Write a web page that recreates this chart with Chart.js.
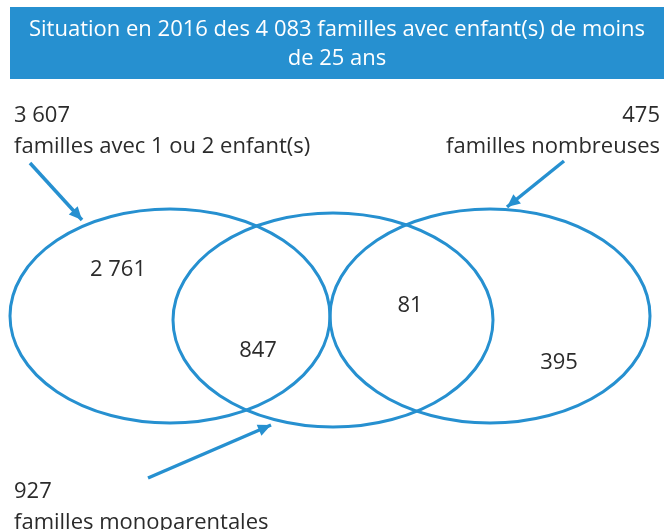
<!DOCTYPE html>
<html>
<head>
<meta charset="utf-8">
<script src="https://cdn.jsdelivr.net/npm/chart.js@4.4.0/dist/chart.umd.min.js"></script>
<style>
html,body{margin:0;padding:0;background:#fff;}
#wrap{width:664px;height:530px;position:relative;}
</style>
</head>
<body>
<div id="wrap"><canvas id="c" width="664" height="530"></canvas></div>
<script>
// ---- Data ----
const titleLines = ["Situation en 2016 des 4 083 familles avec enfant(s) de moins", "de 25 ans"];
const setNames = ["familles avec 1 ou 2 enfant(s)", "familles nombreuses", "familles monoparentales"];
const setTotals = ["3 607", "475", "927"];
const regionLabels = ["2 761", "847", "81", "395"];

// ---- Layout (drawing-space coordinates, in scale units) ----
const ellipseCX = [170, 333, 490];
const ellipseCY = [316, 320, 316];
const ellipseRX = [160, 160, 160];
const ellipseRY = [107, 107, 107];
const regionX = [118, 258, 410, 559];
const regionY = [270, 351, 306, 363];
const setLabelX = [14, 660, 14];
const setLabelY = [122, 122, 498];
const setLabelAlign = ["left", "right", "left"];
const arrowFrom = [[30, 163], [564, 161], [148, 478]];
const arrowTo = [[82, 220], [507, 207], [271, 425]];

const BLUE = "#2690d0";
const TEXT = "#2b2b2b";
const FONT = "'Open Sans', 'Noto Sans', sans-serif";

const arrowDatasets = arrowFrom.map((f, i) => ({
  type: 'line',
  data: [{x: f[0], y: f[1]}, {x: arrowTo[i][0], y: arrowTo[i][1]}],
  borderColor: BLUE,
  borderWidth: 3.5,
  pointRadius: 0,
  showLine: true,
  fill: false
}));

const vennPlugin = {
  id: 'venn',
  beforeDatasetsDraw(chart) {
    const {ctx, scales: {x, y}} = chart;
    ctx.save();
    // title bar
    const tx0 = x.getPixelForValue(10), tx1 = x.getPixelForValue(664);
    const ty0 = y.getPixelForValue(7), ty1 = y.getPixelForValue(79);
    ctx.fillStyle = BLUE;
    ctx.fillRect(tx0, ty0, tx1 - tx0, ty1 - ty0);
    ctx.fillStyle = "#ffffff";
    ctx.font = "22px " + FONT;
    ctx.textAlign = "center";
    ctx.textBaseline = "alphabetic";
    titleLines.forEach((t, i) => {
      ctx.fillText(t, x.getPixelForValue(337), y.getPixelForValue(36 + i * 29));
    });
    // ellipses
    ctx.strokeStyle = BLUE;
    ctx.lineWidth = 3;
    ellipseCX.forEach((cx, i) => {
      const px = x.getPixelForValue(cx), py = y.getPixelForValue(ellipseCY[i]);
      const rx = Math.abs(x.getPixelForValue(cx + ellipseRX[i]) - px);
      const ry = Math.abs(y.getPixelForValue(ellipseCY[i] + ellipseRY[i]) - py);
      ctx.beginPath();
      ctx.ellipse(px, py, rx, ry, 0, 0, Math.PI * 2);
      ctx.stroke();
    });
    ctx.restore();
  },
  afterDatasetsDraw(chart) {
    const {ctx, scales: {x, y}} = chart;
    ctx.save();
    // arrowheads
    ctx.fillStyle = BLUE;
    arrowFrom.forEach((f, i) => {
      const x0 = x.getPixelForValue(f[0]), y0 = y.getPixelForValue(f[1]);
      const x1 = x.getPixelForValue(arrowTo[i][0]), y1 = y.getPixelForValue(arrowTo[i][1]);
      const a = Math.atan2(y1 - y0, x1 - x0);
      const L = 13, W = 6;
      ctx.beginPath();
      ctx.moveTo(x1, y1);
      ctx.lineTo(x1 - L * Math.cos(a) + W * Math.sin(a), y1 - L * Math.sin(a) - W * Math.cos(a));
      ctx.lineTo(x1 - L * Math.cos(a) - W * Math.sin(a), y1 - L * Math.sin(a) + W * Math.cos(a));
      ctx.closePath();
      ctx.fill();
    });
    // labels
    ctx.fillStyle = TEXT;
    ctx.font = "22px " + FONT;
    ctx.textBaseline = "middle";
    ctx.textAlign = "center";
    regionLabels.forEach((t, i) => {
      ctx.fillText(t, x.getPixelForValue(regionX[i]), y.getPixelForValue(regionY[i]));
    });
    ctx.textBaseline = "alphabetic";
    setTotals.forEach((t, i) => {
      ctx.textAlign = setLabelAlign[i];
      const px = x.getPixelForValue(setLabelX[i]);
      ctx.fillText(t, px, y.getPixelForValue(setLabelY[i]));
      ctx.fillText(setNames[i], px, y.getPixelForValue(setLabelY[i] + 31));
    });
    ctx.restore();
  }
};

new Chart(document.getElementById('c'), {
  type: 'scatter',
  data: { datasets: arrowDatasets },
  options: {
    responsive: false,
    animation: false,
    layout: { padding: 0 },
    plugins: { legend: { display: false }, tooltip: { enabled: false }, title: { display: false } },
    scales: {
      x: { type: 'linear', min: 0, max: 664, display: false },
      y: { type: 'linear', min: 0, max: 530, reverse: true, display: false }
    }
  },
  plugins: [vennPlugin]
});
</script>
</body>
</html>
